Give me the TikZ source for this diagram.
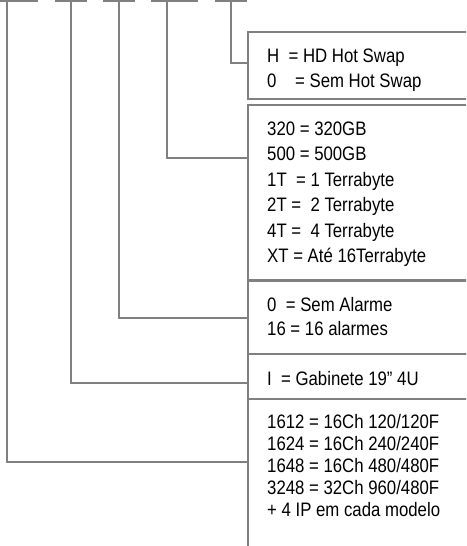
\documentclass[tikz,border=0pt]{standalone}
\usepackage{fontspec}
\setmainfont[FakeStretch=0.86]{Liberation Sans}
\begin{document}
\begin{tikzpicture}[x=1pt,y=-1pt,
  ln/.style={draw=gray, line width=2pt},
  conn/.style={ln},
  box/.style={ln, fill=none, anchor=north west, inner sep=0pt, minimum width=240pt},
  txt/.style={anchor=base west, inner sep=0pt, font=\fontsize{19.5pt}{19.5pt}\selectfont, text=black}]
\useasboundingbox (0,0) rectangle (466,546);
\begin{scope}
\clip (0,0) rectangle (466,546);
% code segments on top
\foreach \n/\a/\b in {s1/0/38, s2/55/87, s3/103/135, s4/151/198, s5/215/247}{
  \draw[ln] (\a,1) -- (\b,1);
}
\coordinate (k1) at (7,1);
\coordinate (k2) at (71,1);
\coordinate (k3) at (119,1);
\coordinate (k4) at (167,1);
\coordinate (k5) at (231,1);
% boxes
\node[box, minimum height=67pt] (b1) at (246.5,31) {};
\node[box, minimum height=175pt] (b2) at (246.5,104) {};
\node[box, minimum height=73pt] (b3) at (246.5,280) {};
\node[box, minimum height=45pt] (b4) at (246.5,353) {};
\node[box, minimum height=170pt] (b5) at (246.5,398) {};
% join points on box left sides
\coordinate (j1) at (246.5,63);
\coordinate (j2) at (246.5,158);
\coordinate (j3) at (246.5,318);
\coordinate (j4) at (246.5,383);
\coordinate (j5) at (246.5,462);
\draw[conn] (k5) |- (j1);
\draw[conn] (k4) |- (j2);
\draw[conn] (k3) |- (j3);
\draw[conn] (k2) |- (j4);
\draw[conn] (k1) |- (j5);
\end{scope}
% texts
\node[txt] (t11) at (267,62) {H\ \ = HD Hot Swap};
\node[txt] (t12) at (267,87) {0\ \ \ \ = Sem Hot Swap};
\node[txt] (t21) at (267,135) {320 = 320GB};
\node[txt] (t22) at (267,160.5) {500 = 500GB};
\node[txt] (t23) at (267,186) {1T\ \ = 1 Terrabyte};
\node[txt] (t24) at (267,211.5) {2T =\ \ 2 Terrabyte};
\node[txt] (t25) at (267,237) {4T =\ \ 4 Terrabyte};
\node[txt] (t26) at (267,262.5) {XT = Até 16Terrabyte};
\node[txt] (t31) at (267,311) {0\ \ = Sem Alarme};
\node[txt] (t32) at (267,335) {16 = 16 alarmes};
\node[txt] (t41) at (267,385) {I\ \ = Gabinete 19” 4U};
\node[txt] (t51) at (267,428) {1612 = 16Ch 120/120F};
\node[txt] (t52) at (267,450) {1624 = 16Ch 240/240F};
\node[txt] (t53) at (267,472) {1648 = 16Ch 480/480F};
\node[txt] (t54) at (267,494) {3248 = 32Ch 960/480F};
\node[txt] (t55) at (267,516) {+ 4 IP em cada modelo};
\end{tikzpicture}
\end{document}
